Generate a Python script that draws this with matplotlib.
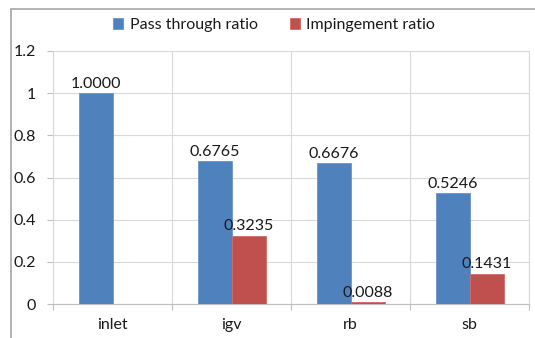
import matplotlib
matplotlib.use("Agg")
import matplotlib.pyplot as plt
from matplotlib.patches import Rectangle
import numpy as np

plt.rcParams['font.family'] = ['Lato', 'DejaVu Sans']

categories = ["inlet", "igv", "rb", "sb"]
pass_through = [1.0000, 0.6765, 0.6676, 0.5246]
impingement = [None, 0.3235, 0.0088, 0.1431]
series_names = ["Pass through ratio", "Impingement ratio"]
y_ticks = [0, 0.2, 0.4, 0.6, 0.8, 1.0, 1.2]
y_tick_labels = ["0", "0.2", "0.4", "0.6", "0.8", "1", "1.2"]

W, H = 535, 338
fig = plt.figure(figsize=(W / 100, H / 100), dpi=100)
ax = fig.add_axes([53 / W, (H - 304) / H, 476 / W, (304 - 51) / H])

blue = "#4F81BD"
red = "#C0504D"
x = np.arange(len(categories))
bw = 1 / 3.5

ax.bar(x - bw / 2, pass_through, width=bw, color=blue, edgecolor="#6a95c9",
       linewidth=0.6, zorder=3, label=series_names[0])
imp_x = [xi for xi, v in zip(x, impingement) if v is not None]
imp_v = [v for v in impingement if v is not None]
ax.bar(np.array(imp_x) + bw / 2, imp_v, width=bw, color=red, edgecolor="#d06c69",
       linewidth=0.6, zorder=3, label=series_names[1])

fs = 11.5
txt = "#1a1a1a"
for xi, v in zip(x, pass_through):
    ax.text(xi - bw / 2, v + 0.012, f"{v:.4f}", ha="center", va="bottom",
            fontsize=fs, color=txt, zorder=4)
for xi, v in zip(imp_x, imp_v):
    ax.text(xi + bw / 2, v + 0.012, f"{v:.4f}", ha="center", va="bottom",
            fontsize=fs, color=txt, zorder=4)

ax.set_xlim(-0.5, len(categories) - 0.5)
ax.set_ylim(0, 1.2)
ax.set_yticks(y_ticks)
ax.set_yticklabels(y_tick_labels, fontsize=fs, color=txt)
ax.set_xticks(x)
ax.set_xticklabels(categories, fontsize=fs, color=txt)
ax.set_xticks(np.arange(len(categories) + 1) - 0.5, minor=True)
ax.tick_params(axis="x", which="major", length=0, pad=10)
ax.tick_params(axis="x", which="minor", length=4, color="#bfbfbf", width=0.8)
ax.tick_params(axis="y", length=4.5, color="#bfbfbf", width=0.8, pad=8)

ax.grid(True, axis="y", color="#d9d9d9", linewidth=0.8, zorder=0)
ax.grid(True, axis="x", which="minor", color="#d9d9d9", linewidth=0.8, zorder=0)
for side in ["top", "right", "left"]:
    ax.spines[side].set_color("#d9d9d9")
    ax.spines[side].set_linewidth(0.8)
ax.spines["bottom"].set_color("#bfbfbf")
ax.spines["bottom"].set_linewidth(0.8)

leg = fig.legend(loc="center", bbox_to_anchor=(274 / W, (H - 25) / H), ncol=2,
                 frameon=False, fontsize=fs, handlelength=0.65, handleheight=0.65,
                 handletextpad=0.4, columnspacing=2.0)
for t in leg.get_texts():
    t.set_color(txt)

frame = Rectangle((10.5 / W, -0.1), 1.2, (H - 9) / H + 0.1, transform=fig.transFigure,
                  fill=False, edgecolor="#a6a6a6", linewidth=1.2, clip_on=False)
fig.add_artist(frame)

fig.savefig("out.png", dpi=100, facecolor="white")
